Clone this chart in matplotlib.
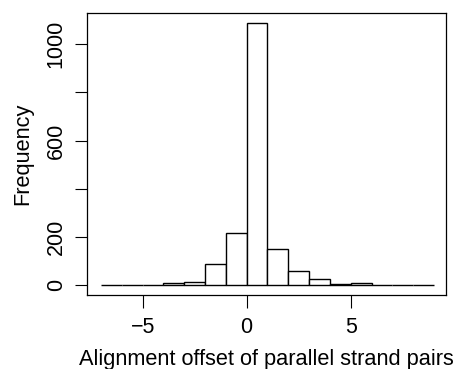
import matplotlib

matplotlib.use("Agg")
import matplotlib.pyplot as plt
import numpy as np

# histogram bins (unit width) and counts
bin_edges = list(range(-7, 10))
counts = [1, 1, 2, 7, 11, 88, 217, 1090, 151, 57, 24, 5, 8, 2, 1, 1]

x_ticks = [-5, 0, 5]
y_ticks = [0, 200, 400, 600, 800, 1000]
y_labels = ["0", "200", "", "600", "", "1000"]

plt.rcParams["font.family"] = ["Liberation Sans", "DejaVu Sans"]

fig = plt.figure(figsize=(4.59, 3.69), dpi=100)
ax = fig.add_axes([0.1906, 0.2005, 0.7811, 0.7643])

edges = np.array(bin_edges, dtype=float)
ax.bar(edges[:-1], counts, width=np.diff(edges), align="edge",
       facecolor="white", edgecolor="black", linewidth=1.0)

ax.set_xlim(-7.65, 9.58)
ax.set_ylim(-41.5, 1130)
ax.set_xticks(x_ticks)
ax.set_xticklabels(["\u22125", "0", "5"])
ax.set_yticks(y_ticks)
ax.set_yticklabels(y_labels, rotation=90, va="center")
ax.tick_params(direction="out", length=9, width=0.8, labelsize=15.5)
ax.tick_params(axis="x", pad=7)
ax.tick_params(axis="y", pad=6)
for s in ax.spines.values():
    s.set_linewidth(0.9)

ax.set_xlabel("Alignment offset of parallel strand pairs", fontsize=15.7, labelpad=8)
ax.set_ylabel("Frequency", fontsize=15.7, labelpad=9)

fig.savefig("out.png", dpi=100)
